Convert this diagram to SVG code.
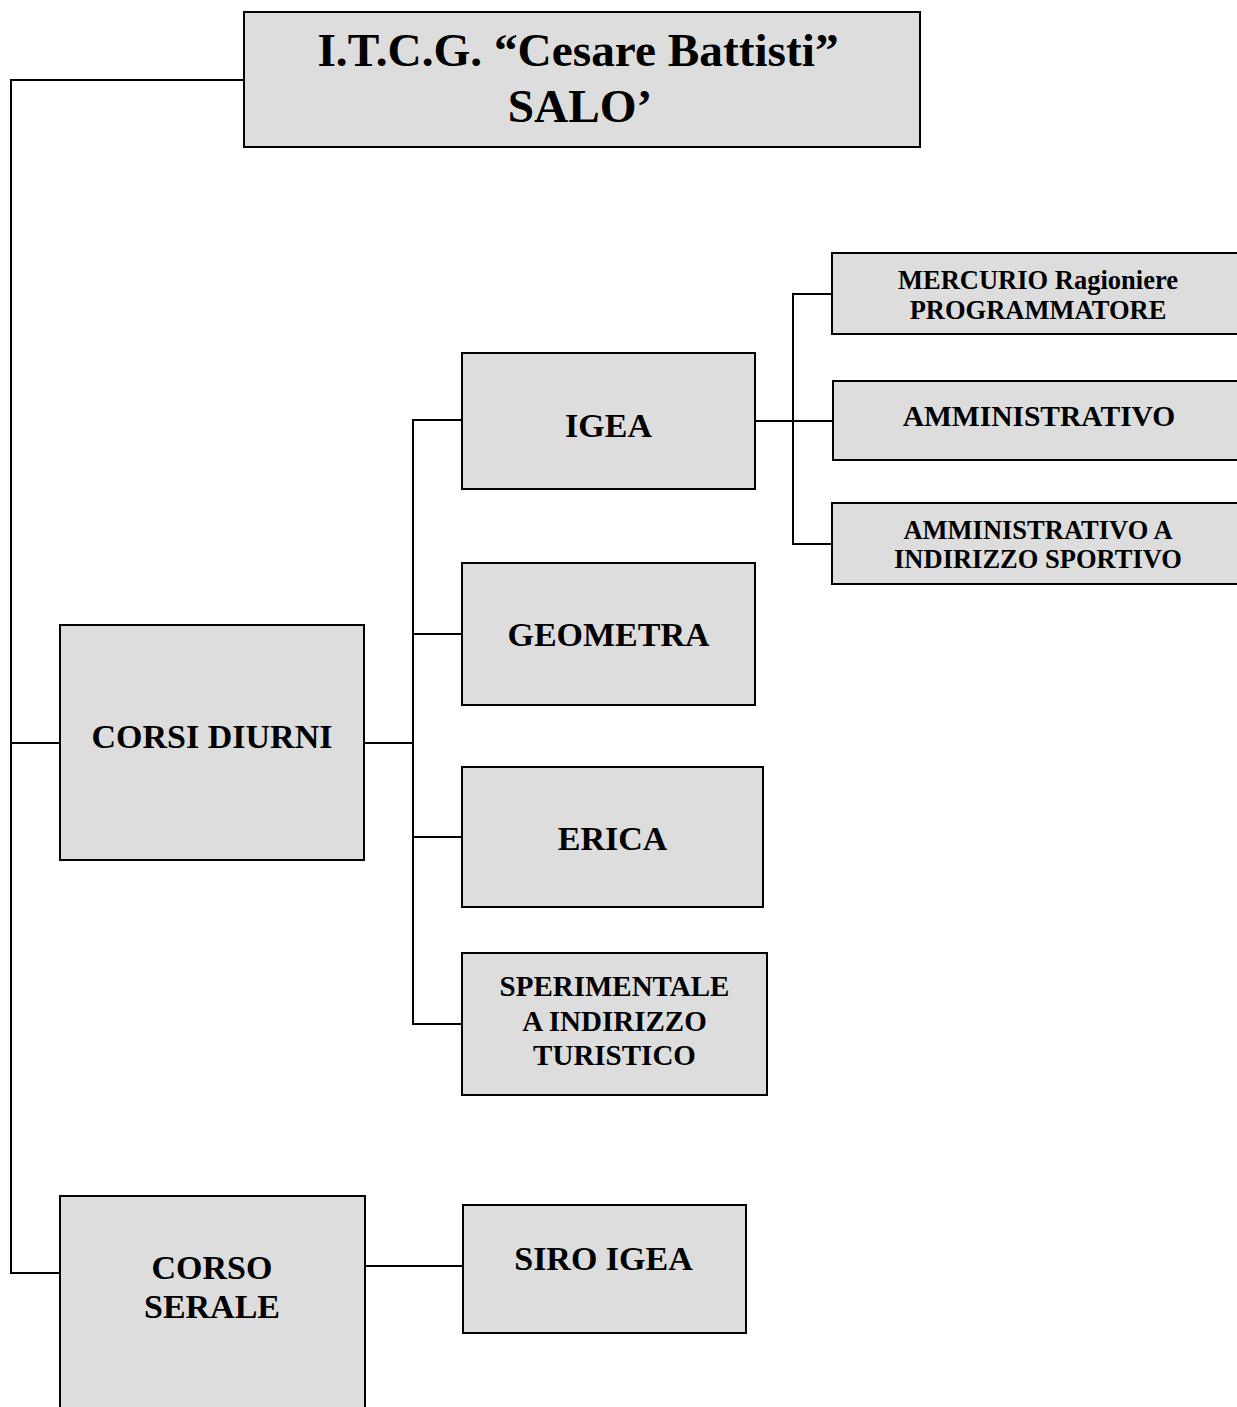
<svg xmlns="http://www.w3.org/2000/svg" width="1237" height="1407" viewBox="0 0 1237 1407">
<style>
.box{fill:#dddddd;stroke:#000;stroke-width:2}
.conn{fill:none;stroke:#000;stroke-width:2}
text{font-family:"Liberation Serif","Times New Roman",serif;font-weight:bold;fill:#000;text-anchor:middle}
.t48{font-size:47.3px}
.t34{font-size:34px}
.t29{font-size:29px}
.t28{font-size:29.5px}
.t265{font-size:26.5px}
</style>
<rect width="1237" height="1407" fill="#fff"/>
<g id="connectors">
<path class="conn" d="M245,80 H11 V1273 H60"/>
<path class="conn" d="M11,743 H60"/>
<path class="conn" d="M364,743 H413"/>
<path class="conn" d="M462,420 H413 V1024 H462"/>
<path class="conn" d="M413,634 H462"/>
<path class="conn" d="M413,837 H462"/>
<path class="conn" d="M755,421 H833"/>
<path class="conn" d="M832,294 H793 V544 H832"/>
<path class="conn" d="M364,1266 H463"/>
</g>
<g id="title">
<rect class="box" x="244" y="12" width="676" height="135"/>
<text class="t48" x="578" y="66">I.T.C.G. “Cesare Battisti”</text>
<text class="t48" x="580" y="122">SALO’</text>
</g>
<g id="corsi-diurni">
<rect class="box" x="60" y="625" width="304" height="235"/>
<text class="t34" x="212" y="748">CORSI DIURNI</text>
</g>
<g id="corso-serale">
<rect class="box" x="60" y="1196" width="305" height="230"/>
<text class="t34" x="212" y="1279">CORSO</text>
<text class="t34" x="212" y="1318">SERALE</text>
</g>
<g id="igea">
<rect class="box" x="462" y="353" width="293" height="136"/>
<text class="t34" x="608.5" y="437">IGEA</text>
</g>
<g id="geometra">
<rect class="box" x="462" y="563" width="293" height="142"/>
<text class="t34" x="608.5" y="646">GEOMETRA</text>
</g>
<g id="erica">
<rect class="box" x="462" y="767" width="301" height="140"/>
<text class="t34" x="612.5" y="850">ERICA</text>
</g>
<g id="sperimentale">
<rect class="box" x="462" y="953" width="305" height="142"/>
<text class="t29" x="614.5" y="996">SPERIMENTALE</text>
<text class="t29" x="614.5" y="1030.5">A INDIRIZZO</text>
<text class="t29" x="614.5" y="1065">TURISTICO</text>
</g>
<g id="siro-igea">
<rect class="box" x="463" y="1205" width="283" height="128"/>
<text class="t34" x="603.5" y="1270">SIRO IGEA</text>
</g>
<g id="mercurio">
<rect class="box" x="832" y="253" width="412" height="81"/>
<text class="t265" x="1038" y="289">MERCURIO Ragioniere</text>
<text class="t265" x="1038" y="319">PROGRAMMATORE</text>
</g>
<g id="amministrativo">
<rect class="box" x="833" y="381" width="411" height="79"/>
<text class="t28" x="1039" y="426">AMMINISTRATIVO</text>
</g>
<g id="amministrativo-sportivo">
<rect class="box" x="832" y="503" width="412" height="81"/>
<text class="t265" x="1038" y="539">AMMINISTRATIVO A</text>
<text class="t265" x="1038" y="568">INDIRIZZO SPORTIVO</text>
</g>
</svg>
